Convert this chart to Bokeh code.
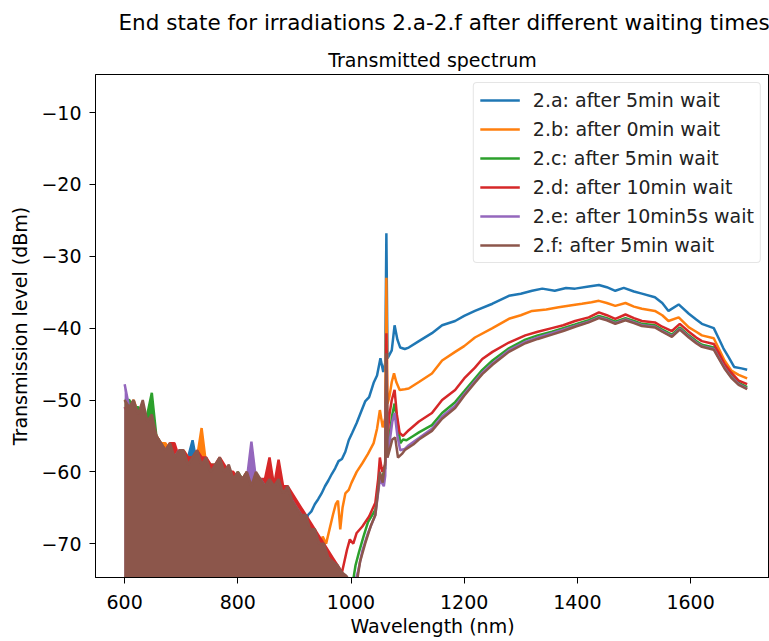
from bokeh.plotting import figure
from bokeh.models import Range1d, Title, Legend, LegendItem, FixedTicker
from bokeh.embed import file_html
from bokeh.resources import INLINE

# ---------------- data ----------------
X_TICKS = [600, 800, 1000, 1200, 1400, 1600]
X_TICK_LABELS = ["600", "800", "1000", "1200", "1400", "1600"]
Y_TICKS = [-70, -60, -50, -40, -30, -20, -10]
Y_TICK_LABELS = ["\u221270", "\u221260", "\u221250", "\u221240", "\u221230", "\u221220", "\u221210"]

LABELS = ["2.a: after 5min wait", "2.b: after 0min wait", "2.c: after 5min wait",
          "2.d: after 10min wait", "2.e: after 10min5s wait", "2.f: after 5min wait"]
COLORS = ["#1f77b4", "#ff7f0e", "#2ca02c", "#d62728", "#9467bd", "#8c564b"]

# noisy band 600-1000 nm: wavelengths and local peak levels of each trace
NOISE_WL = [600, 608, 616, 624, 632, 640, 648, 656, 664, 672, 680, 688, 696, 704, 712, 720, 728,
            736, 744, 752, 760, 768, 776, 784, 792, 800, 808, 816, 824, 832, 840, 848, 856, 864,
            872, 880, 888, 896, 904, 912, 920, 928, 936, 944, 952, 960, 968, 976, 984, 992, 1000]
NOISE_FLOOR = -80

A_NOISE = [-51, -52, -51, -53, -52, -54, -54, -56, -57, -57, -57, -58, -58, -58, -58, -55.6, -59,
           -60, -59, -60, -60, -59, -61, -60, -61, -61, -61, -61, -62, -61, -62, -61, -62, -62,
           -62, -63, -63, -64, -65, -66]
B_NOISE = [-50, -51, -50, -52, -51, -53, -53, -55, -56, -56, -57, -57, -58, -57, -58, -58, -58,
           -53.9, -59, -59, -60, -59, -60, -60, -61, -61, -61, -61, -62, -61, -62, -62, -61, -62,
           -62, -63, -63, -64, -65, -66, -67, -68, -69]
C_NOISE = [-50, -50, -51, -51, -52, -52, -49, -55, -56, -57, -57, -57, -58, -58, -58, -58, -58,
           -59, -59, -59, -59, -59, -60, -60, -61, -60, -61, -60, -62, -61, -61, -62, -59, -62,
           -61, -63, -62, -64, -65, -66, -67, -68, -68, -70, -71, -72, -73, -74, -75, -76, -77]
D_NOISE = [-51, -52, -51, -52, -51, -53, -53, -55, -56, -57, -56, -56, -58, -57, -58, -58, -57,
           -58, -58, -59, -59, -58, -59, -60, -60, -61, -61, -60, -61, -61, -61, -61, -58, -62,
           -58.3, -62, -62, -63, -64, -65, -66, -67, -68, -69, -70, -71, -72, -73, -74]
E_NOISE = [-47.8, -51, -51, -53, -52, -54, -53, -56, -57, -57, -57, -58, -57, -58, -59, -59, -58,
           -59, -59, -60, -60, -59, -60, -60, -61, -61, -61, -61, -55.8, -61, -61, -62, -62, -62,
           -62, -63, -63, -64, -65, -66, -67, -68, -69, -70, -71, -72, -73, -74, -75, -76, -77]
F_NOISE = [-50, -51, -50, -52, -50, -53, -52, -55, -56, -57, -56, -58, -57, -57, -59, -58, -57,
           -59, -58, -60, -59, -58, -60, -59, -61, -60, -61, -60, -62, -60, -61, -62, -61, -62,
           -61, -63, -62, -64, -65, -66, -66, -68, -68, -70, -70, -72, -72.5, -73, -74, -74.5, -75.5]

# smooth part of each trace
A_WL = [918, 924, 930, 936, 942, 948, 954, 960, 966, 972, 978, 984, 990, 996, 1002, 1010, 1018,
        1025, 1032, 1040, 1046, 1052, 1057, 1060.5, 1062.5, 1064.5, 1072, 1077, 1082, 1087, 1095,
        1102, 1120, 1143, 1161, 1184, 1200, 1219, 1250, 1279, 1300, 1320, 1338, 1360, 1380, 1396,
        1420, 1438, 1452, 1467, 1482, 1500, 1514, 1537, 1550, 1561, 1579, 1597, 1610, 1620, 1641,
        1649, 1658, 1667, 1677, 1690, 1700]
A_DB = [-67.5, -66, -65.5, -64.5, -63.8, -63, -62, -61.2, -60.3, -59.5, -58.5, -58.2, -57.2,
        -55.6, -54.6, -53.2, -51.6, -50.2, -49.6, -47.6, -46.6, -44.2, -46.1, -44.8, -26.8, -44.2,
        -43.1, -39.6, -41.6, -42.7, -42.9, -42.7, -41.8, -40.7, -39.6, -39, -38.3, -37.6, -36.6,
        -35.5, -35.2, -34.8, -34.5, -34.8, -34.4, -34.5, -34.2, -34.0, -34.3, -34.8, -34.4, -34.9,
        -35.2, -35.7, -36.5, -37.6, -36.7, -38, -38.8, -39.4, -40, -41.3, -42.8, -44, -45.4,
        -45.6, -45.8]

B_WL = [944, 950, 956, 962, 968, 973, 977, 981, 985, 990, 996, 1001, 1010, 1020, 1030, 1040,
        1046, 1051, 1056, 1060.5, 1062.5, 1064.5, 1068, 1072, 1076, 1080, 1086, 1095, 1102, 1120,
        1143, 1161, 1184, 1200, 1219, 1250, 1279, 1300, 1320, 1345, 1367, 1390, 1408, 1425, 1438,
        1452, 1467, 1485, 1500, 1514, 1537, 1550, 1561, 1579, 1597, 1610, 1620, 1641, 1649, 1660,
        1672, 1685, 1700]
B_DB = [-71, -69, -70, -68, -66, -64.5, -64, -68, -65, -63, -62.5, -61.5, -60, -58.8, -57.5,
        -56, -54, -51.4, -53.8, -52.5, -33, -50.5, -49.5, -47.5, -46.3, -47.5, -48.6, -48.5,
        -48.4, -47.5, -46.3, -44.5, -43.3, -42.5, -41.3, -40, -38.7, -38.2, -37.6, -37.4, -37.1,
        -36.8, -36.6, -36.4, -36.2, -36.5, -36.9, -36.5, -37, -37.3, -37.6, -38.2, -39, -38.5,
        -39.9, -40.5, -41, -41.4, -42.7, -44.5, -45.9, -46.5, -47]

C_WL = [1008, 1014, 1022, 1030, 1043, 1050, 1056, 1060.5, 1062.5, 1064.5, 1068, 1073, 1077, 1082,
        1087, 1092, 1098, 1110, 1120, 1143, 1161, 1184, 1200, 1219, 1232, 1250, 1279, 1308, 1330,
        1355, 1375, 1396, 1420, 1438, 1452, 1467, 1485, 1500, 1514, 1537, 1550, 1567, 1581, 1597,
        1610, 1620, 1641, 1649, 1660, 1672, 1685, 1700]
C_DB = [-73, -71.2, -69, -67, -65.3, -61, -60.5, -59.5, -43, -57, -55, -52, -50.5, -53, -56,
        -55.5, -55.6, -55, -54.5, -53.5, -51.8, -50.3, -48.8, -47, -45.8, -44.5, -42.8, -41.6,
        -41, -40.5, -40, -39.5, -38.9, -38.3, -38.6, -39.1, -38.6, -39, -39.4, -39.6, -40.2,
        -40.9, -39.9, -41, -41.8, -42.3, -42.7, -43.8, -45.3, -46.6, -47.6, -48.2]

D_WL = [993, 998, 1004, 1010, 1020, 1032, 1043, 1048, 1051, 1055, 1060.5, 1062.5, 1064.5, 1068,
        1072, 1077, 1081, 1086, 1092, 1102, 1120, 1143, 1161, 1184, 1200, 1219, 1232, 1250, 1279,
        1308, 1330, 1355, 1375, 1396, 1420, 1438, 1452, 1467, 1485, 1500, 1514, 1537, 1550, 1567,
        1581, 1597, 1610, 1620, 1641, 1649, 1660, 1672, 1685, 1700]
D_DB = [-70.8, -69.4, -70, -68.5, -67.6, -66.2, -64.3, -61, -58, -60, -59, -40.7, -55, -52, -50,
        -48.6, -52, -54.6, -55, -54.2, -53, -51.8, -50, -48.6, -47, -45.5, -44.3, -43.3, -42,
        -41, -40.5, -40, -39.6, -39, -38.5, -37.8, -38.2, -38.7, -38.1, -38.6, -39, -39.2, -39.8,
        -40.4, -39.4, -40.5, -41.3, -41.8, -42.2, -43.3, -45, -46.2, -47.3, -47.8]

E_WL = [1012, 1020, 1030, 1043, 1051, 1058, 1060.5, 1062.5, 1064.5, 1068, 1073, 1077, 1082, 1087,
        1095, 1102, 1120, 1143, 1161, 1184, 1200, 1219, 1232, 1250, 1279, 1308, 1330, 1355, 1375,
        1396, 1420, 1438, 1452, 1467, 1485, 1500, 1514, 1537, 1550, 1567, 1581, 1597, 1610, 1620,
        1641, 1649, 1660, 1672, 1685, 1700]
E_DB = [-74, -71, -68.5, -66, -61, -62, -60.5, -45, -58, -56, -53, -51.8, -55, -57, -56.8, -56.3,
        -55.3, -54, -52.3, -50.8, -49.2, -47.4, -46.2, -44.9, -43.1, -41.9, -41.3, -40.7, -40.2,
        -39.7, -39.1, -38.5, -38.8, -39.3, -38.8, -39.2, -39.6, -39.8, -40.4, -41.1, -40.1, -41.2,
        -42, -42.5, -42.9, -44, -45.5, -46.8, -47.8, -48.4]

F_WL = [1010, 1016, 1025, 1035, 1043, 1048, 1051, 1056, 1060.5, 1062.5, 1064.5, 1068, 1073, 1078,
        1083, 1090, 1096, 1110, 1120, 1143, 1161, 1184, 1200, 1219, 1232, 1250, 1279, 1308, 1330,
        1355, 1375, 1396, 1420, 1438, 1452, 1467, 1485, 1500, 1514, 1537, 1550, 1567, 1581, 1597,
        1610, 1620, 1641, 1649, 1660, 1672, 1685, 1700]
F_DB = [-75.5, -72.5, -70, -67.5, -66, -62.5, -60, -61.5, -58.5, -43.5, -58, -57, -55.5, -55.2,
        -58, -57.5, -56.9, -56.2, -55.5, -54.3, -52.6, -51.1, -49.4, -47.6, -46.4, -45.1, -43.3,
        -42.1, -41.5, -40.9, -40.4, -39.8, -39.2, -38.6, -38.9, -39.4, -38.9, -39.3, -39.7, -39.9,
        -40.5, -41.2, -40.2, -41.3, -42.1, -42.6, -43, -44.1, -45.6, -46.9, -47.9, -48.5]

NOISES = [A_NOISE, B_NOISE, C_NOISE, D_NOISE, E_NOISE, F_NOISE]
WLS = [A_WL, B_WL, C_WL, D_WL, E_WL, F_WL]
DBS = [A_DB, B_DB, C_DB, D_DB, E_DB, F_DB]

FONT = "DejaVu Sans"
FS = "19px"

# ---------------- figure ----------------
p = figure(width=769, height=641, output_backend="svg", toolbar_location=None, title=None,
           x_range=Range1d(548.5, 1739.5), y_range=Range1d(-74.7, -4.7),
           min_border_left=95, min_border_right=0, min_border_top=72, min_border_bottom=64)
p.background_fill_color = "white"
p.border_fill_color = "white"
p.outline_line_color = "black"
p.outline_line_width = 1
p.xgrid.visible = False
p.ygrid.visible = False

items = []
for noise, wl, db, lab, col in zip(NOISES, WLS, DBS, LABELS, COLORS):
    nwl = NOISE_WL[:len(noise)]
    p.varea(x=nwl, y1=NOISE_FLOOR, y2=noise, fill_color=col, fill_alpha=1.0)
    r = p.line(x=nwl + wl, y=noise + db, line_color=col, line_width=2.5)
    items.append(LegendItem(label=lab, renderers=[r]))

legend = Legend(items=items, location="top_right", margin=8, padding=6, spacing=7,
                label_text_font=FONT, label_text_font_size=FS, label_text_color="#222222",
                glyph_width=40, glyph_height=22, label_standoff=13, label_height=22,
                border_line_color="#cccccc", border_line_width=1, border_radius=4,
                background_fill_alpha=0.85)
p.add_layout(legend)

for ax in (p.xaxis, p.yaxis):
    ax.axis_line_color = "black"
    ax.major_tick_line_color = "black"
    ax.major_tick_out = 6
    ax.major_tick_in = 0
    ax.minor_tick_line_color = None
    ax.major_label_text_font = FONT
    ax.major_label_text_font_size = FS
    ax.major_label_text_color = "black"
    ax.axis_label_text_font = FONT
    ax.axis_label_text_font_size = FS
    ax.axis_label_text_font_style = "normal"
    ax.axis_label_text_color = "black"

p.xaxis.ticker = FixedTicker(ticks=X_TICKS)
p.xaxis.major_label_overrides = dict(zip(X_TICKS, X_TICK_LABELS))
p.yaxis.ticker = FixedTicker(ticks=Y_TICKS)
p.yaxis.major_label_overrides = dict(zip(Y_TICKS, Y_TICK_LABELS))
p.xaxis.axis_label = "Wavelength (nm)"
p.yaxis.axis_label = "Transmission level (dBm)"
p.xaxis.major_label_standoff = 11
p.yaxis.major_label_standoff = 8
p.xaxis.axis_label_standoff = 3
p.yaxis.axis_label_standoff = 7

p.add_layout(Title(text="Transmitted spectrum", align="center", text_font=FONT,
                   text_font_size=FS, text_font_style="normal", text_color="black",
                   standoff=8), "above")
p.add_layout(Title(text="End state for irradiations 2.a-2.f after different waiting times",
                   align="left", offset=23, text_font=FONT, text_font_size="21.5px",
                   text_font_style="normal", text_color="black", standoff=15), "above")

open("out.html", "w").write(file_html(p, INLINE))
